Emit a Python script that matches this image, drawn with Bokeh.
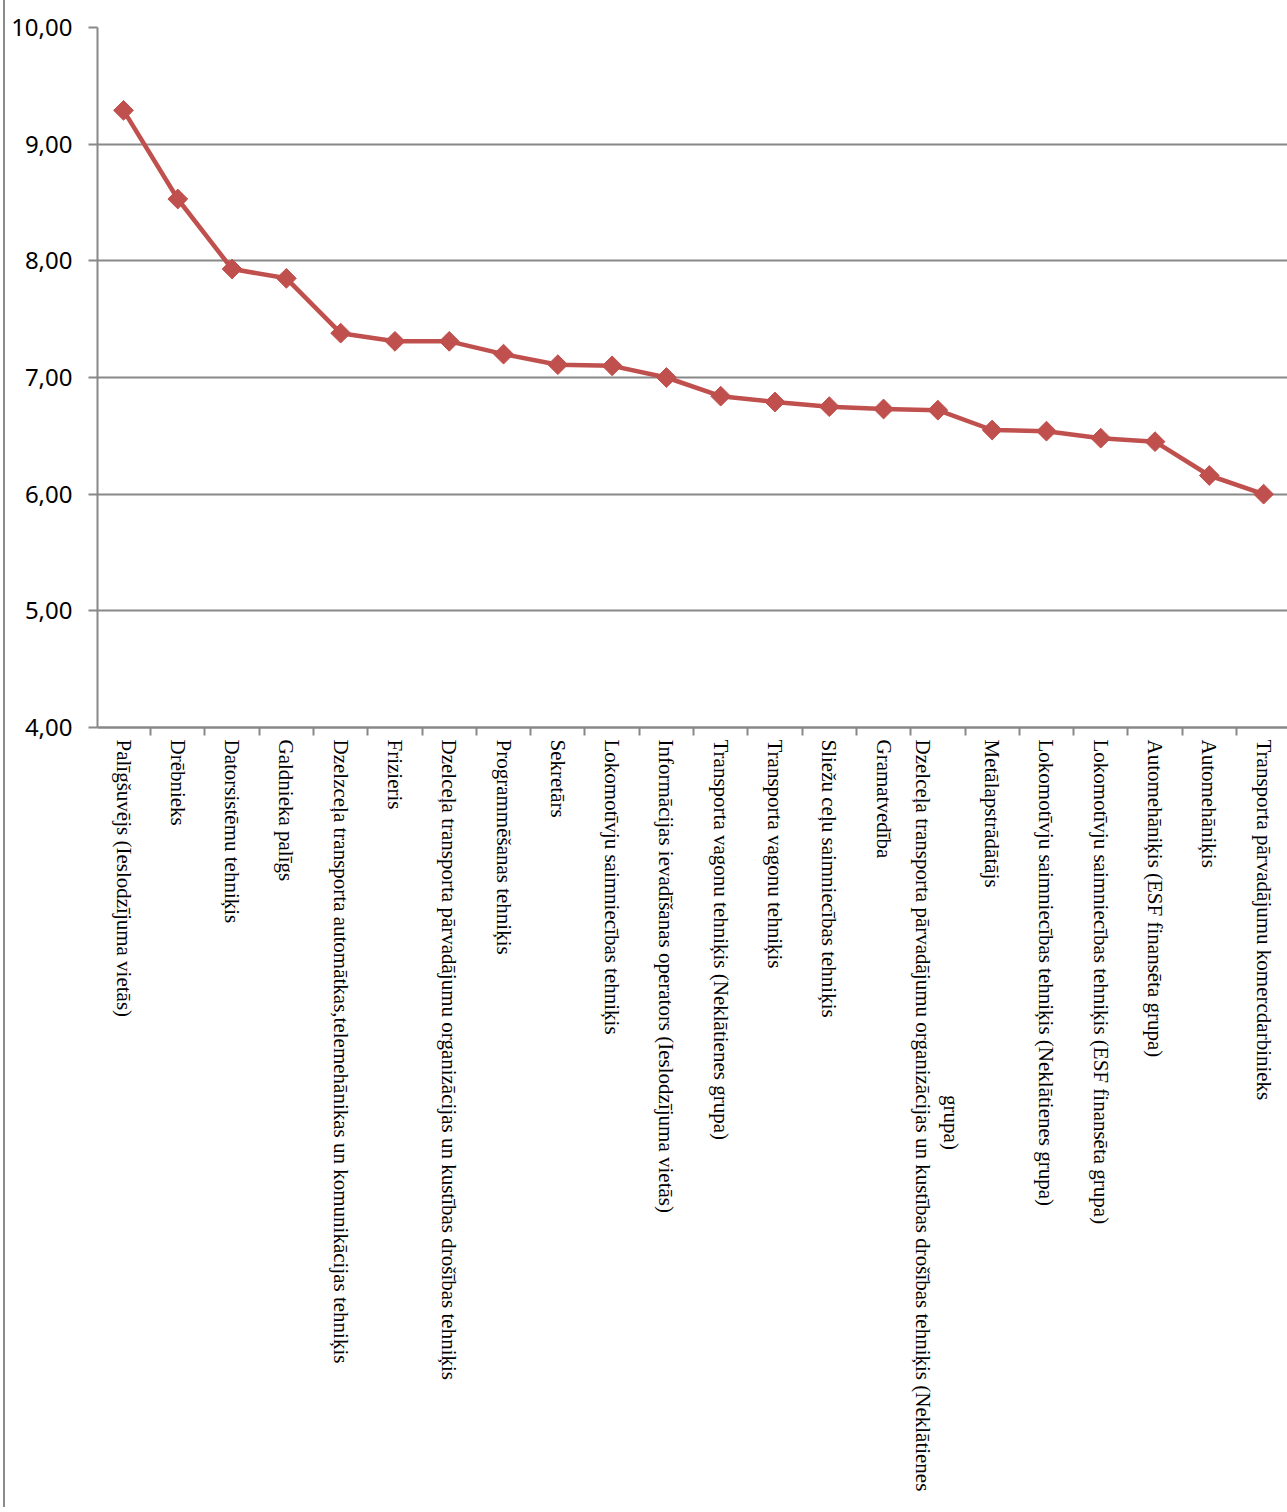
import math
from bokeh.plotting import figure
from bokeh.models import Range1d, FixedTicker, Label
from bokeh.embed import file_html
from bokeh.resources import INLINE

categories = [
    "Palīgšuvējs (Ieslodzījuma vietās)",
    "Drēbnieks",
    "Datorsistēmu tehniķis",
    "Galdnieka palīgs",
    "Dzelzceļa transporta automātkas,telemehānikas un komunikācijas tehniķis",
    "Frizieris",
    "Dzelceļa transporta pārvadājumu organizācijas un kustības drošības tehniķis",
    "Programmēšanas tehniķis",
    "Sekretārs",
    "Lokomotīvju saimniecības tehniķis",
    "Informācijas ievadīšanas operators (Ieslodzījuma vietās)",
    "Transporta vagonu tehniķis (Neklātienes grupa)",
    "Transporta vagonu tehniķis",
    "Sliežu ceļu saimniecības tehniķis",
    "Gramatvedība",
    "Dzelceļa transporta pārvadājumu organizācijas un kustības drošības tehniķis (Neklātienes",
    "Metālapstrādātājs",
    "Lokomotīvju saimniecības tehniķis (Neklātienes grupa)",
    "Lokomotīvju saimniecības tehniķis (ESF finansēta grupa)",
    "Automehāniķis (ESF finansēta grupa)",
    "Automehāniķis",
    "Transporta pārvadājumu komercdarbinieks",
]
wrapped_index = 15
wrapped_rest = "grupa)"
values = [9.29, 8.53, 7.93, 7.85, 7.38, 7.31, 7.31, 7.20, 7.11, 7.10, 7.00,
          6.84, 6.79, 6.75, 6.73, 6.72, 6.55, 6.54, 6.48, 6.45, 6.16, 6.00]
yticks = [4, 5, 6, 7, 8, 9, 10]
ytick_labels = ["4,00", "5,00", "6,00", "7,00", "8,00", "9,00", "10,00"]

x = list(range(len(categories)))
GRAY = "#888888"
RED = "#C0504D"

Y_MIN, Y_MAX = 4, 10
PLOT_H = 700                     # pixel height of the 4..10 value band
FRAME_H = 1480                   # frame continues below so the labels live inside it
px_per_unit = PLOT_H / (Y_MAX - Y_MIN)
y_start = Y_MAX - FRAME_H / px_per_unit

p = figure(frame_width=1190, frame_height=FRAME_H,
           x_range=Range1d(-0.479, 21.44), y_range=Range1d(y_start, Y_MAX),
           output_backend="svg", toolbar_location=None,
           min_border_left=92, min_border_top=27, min_border_right=0, min_border_bottom=0)
p.outline_line_color = None
p.background_fill_color = "white"
p.border_fill_color = "white"

p.line(x, values, line_color=RED, line_width=4.5)
p.scatter(x, values, marker="square", size=14, angle=math.pi / 4,
          fill_color=RED, line_color=RED)

# x axis sits at y = 4 inside the frame
labels = {i: c for i, c in enumerate(categories)}
labels[wrapped_index] = "\u2800\n" + categories[wrapped_index]

p.xaxis.fixed_location = Y_MIN
p.xaxis.ticker = FixedTicker(ticks=x, minor_ticks=[i - 0.5 for i in x] + [len(x) - 0.5])
p.xaxis.major_label_overrides = labels
p.xaxis.major_label_orientation = "vertical"
p.xaxis.major_tick_out = 0
p.xaxis.major_tick_in = 0
p.xaxis.minor_tick_out = 8
p.xaxis.minor_tick_in = 0
p.xaxis.minor_tick_line_color = GRAY
p.xaxis.minor_tick_line_width = 2
p.xaxis.axis_line_color = GRAY
p.xaxis.axis_line_width = 2
p.xaxis.major_label_standoff = 4
p.xaxis.major_label_text_font = "Liberation Serif"
p.xaxis.major_label_text_font_size = "21px"
p.xaxis.major_label_text_color = "black"
p.xgrid.visible = False

# second line of the wrapped label, centred under the first
p.add_layout(Label(x=wrapped_index + 0.24, y=Y_MIN - 395 / px_per_unit, text=wrapped_rest,
                   angle=-math.pi / 2, text_align="center", text_baseline="middle",
                   text_font="Liberation Serif", text_font_size="21px", text_color="black"))

# y axis
p.yaxis.bounds = (Y_MIN, Y_MAX)
p.yaxis.ticker = FixedTicker(ticks=yticks, minor_ticks=[])
p.yaxis.major_label_overrides = {t: l for t, l in zip(yticks, ytick_labels)}
p.yaxis.major_tick_out = 9
p.yaxis.major_tick_in = 0
p.yaxis.major_tick_line_color = GRAY
p.yaxis.major_tick_line_width = 2
p.yaxis.axis_line_color = GRAY
p.yaxis.axis_line_width = 2
p.yaxis.major_label_standoff = 16
p.yaxis.major_label_text_font = "Noto Sans"
p.yaxis.major_label_text_font_size = "24px"
p.yaxis.major_label_text_color = "black"
p.ygrid.ticker = FixedTicker(ticks=yticks)
p.ygrid.grid_line_color = GRAY
p.ygrid.grid_line_width = 2

p.styles = {"border-left": "2px solid #8c8c8c", "margin-left": "3px"}

open("out.html", "w").write(file_html(p, INLINE))
